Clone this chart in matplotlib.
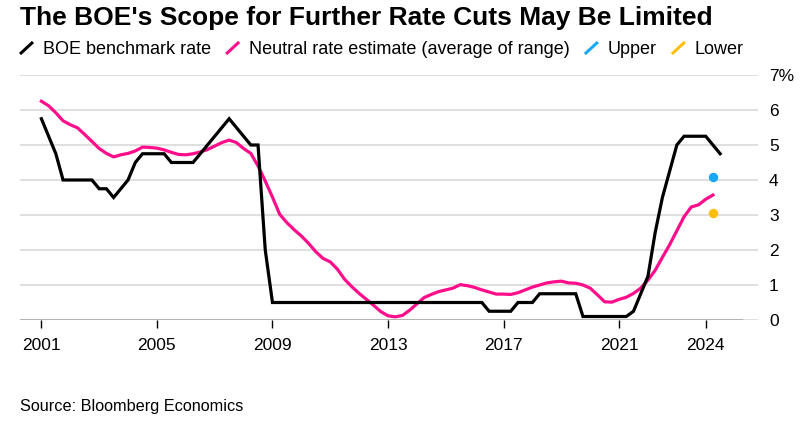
import numpy as np
import matplotlib
matplotlib.use("Agg")
import matplotlib.pyplot as plt
from matplotlib.lines import Line2D

plt.rcParams['font.family'] = ['Liberation Sans', 'DejaVu Sans']

# quarterly readings, first point = 2001 Q1
start_year = 2001.0
boe_rate = [
    5.75, 5.25, 4.75, 4.0, 4.0, 4.0, 4.0, 4.0,
    3.75, 3.75, 3.5, 3.75, 4.0, 4.5, 4.75, 4.75,
    4.75, 4.75, 4.5, 4.5, 4.5, 4.5, 4.75, 5.0,
    5.25, 5.5, 5.75, 5.5, 5.25, 5.0, 5.0, 2.0,
    0.5, 0.5, 0.5, 0.5, 0.5, 0.5, 0.5, 0.5,
    0.5, 0.5, 0.5, 0.5, 0.5, 0.5, 0.5, 0.5,
    0.5, 0.5, 0.5, 0.5, 0.5, 0.5, 0.5, 0.5,
    0.5, 0.5, 0.5, 0.5, 0.5, 0.5, 0.25, 0.25,
    0.25, 0.25, 0.5, 0.5, 0.5, 0.75, 0.75, 0.75,
    0.75, 0.75, 0.75, 0.1, 0.1, 0.1, 0.1, 0.1,
    0.1, 0.1, 0.25, 0.75, 1.25, 2.5, 3.5, 4.25,
    5.0, 5.25, 5.25, 5.25, 5.25, 5.0, 4.75,
]
neutral_rate = [
    6.25, 6.12, 5.92, 5.69, 5.58, 5.49, 5.30, 5.10,
    4.90, 4.76, 4.66, 4.72, 4.76, 4.83, 4.94, 4.93,
    4.91, 4.86, 4.79, 4.73, 4.72, 4.75, 4.80, 4.87,
    4.97, 5.07, 5.14, 5.07, 4.90, 4.76, 4.40, 3.97,
    3.51, 3.02, 2.78, 2.58, 2.40, 2.19, 1.95, 1.76,
    1.66, 1.45, 1.16, 0.95, 0.76, 0.59, 0.42, 0.24,
    0.12, 0.09, 0.13, 0.28, 0.46, 0.64, 0.73, 0.81,
    0.86, 0.91, 1.01, 0.98, 0.93, 0.86, 0.80, 0.74,
    0.74, 0.73, 0.78, 0.86, 0.94, 1.00, 1.06, 1.09,
    1.11, 1.06, 1.05, 1.00, 0.91, 0.72, 0.52, 0.51,
    0.59, 0.65, 0.76, 0.91, 1.14, 1.42, 1.79, 2.15,
    2.55, 2.95, 3.23, 3.29, 3.45, 3.57,
]
est_year = 2024.25
upper_est = 4.1
lower_est = 3.05

year_ticks = [2001, 2005, 2009, 2013, 2017, 2021, 2024]
rate_ticks = [0, 1, 2, 3, 4, 5, 6, 7]
rate_labels = ['0', '1', '2', '3', '4', '5', '6', '7%']

BLACK = '#000000'
PINK = '#ff0d8a'
BLUE = '#1aa7f5'
GOLD = '#fdbf0c'
GRID = '#dcdcdc'

W, H = 804, 433


def main():
    boe_x = start_year + 0.25 * np.arange(len(boe_rate))
    neu_x = start_year + 0.25 * np.arange(len(neutral_rate))

    fig = plt.figure(figsize=(W / 100, H / 100), dpi=100)
    ax = fig.add_axes([20 / W, 1 - 320 / H, 738 / W, 245 / H])

    for r in rate_ticks[1:]:
        ax.axhline(r, color=GRID, lw=1.3, zorder=1)
    ax.axhline(0, color=GRID, lw=1.3, zorder=1)
    ax.axhline(0, xmin=0, xmax=(742 - 20) / 738, color=BLACK, lw=1.0, zorder=2)

    ax.plot(neu_x, neutral_rate, color=PINK, lw=2.3, zorder=3, clip_on=False,
            solid_joinstyle='round')
    ax.plot(boe_x, boe_rate, color=BLACK, lw=2.3, zorder=4, clip_on=False,
            solid_joinstyle='miter')
    ax.scatter([est_year], [upper_est], s=46, color=BLUE, zorder=5, lw=0)
    ax.scatter([est_year], [lower_est], s=46, color=GOLD, zorder=5, lw=0)

    ax.set_xlim(2000.259, 2025.81)
    ax.set_ylim(0, 7)
    for s in ax.spines.values():
        s.set_visible(False)

    ax.set_xticks(year_ticks)
    ax.set_xticklabels([str(y) for y in year_ticks], fontsize=12.5)
    ax.tick_params(axis='x', length=6, width=1, color=BLACK, pad=7)

    ax.yaxis.tick_right()
    ax.set_yticks(rate_ticks)
    ax.set_yticklabels(rate_labels, fontsize=12.5)
    ax.tick_params(axis='y', length=0, pad=8)

    fig.text(20 / W, 1 - 25 / H, "The BOE's Scope for Further Rate Cuts May Be Limited",
             fontsize=19, fontweight='bold', va='baseline', ha='left')

    renderer = fig.canvas.get_renderer()
    entries = [('BOE benchmark rate', BLACK),
               ('Neutral rate estimate (average of range)', PINK),
               ('Upper', BLUE), ('Lower', GOLD)]
    x = 20
    for label, color in entries:
        fig.add_artist(Line2D([x / W, (x + 13) / W], [1 - 54 / H, 1 - 42 / H],
                              color=color, lw=2.2, transform=fig.transFigure,
                              solid_capstyle='butt'))
        t = fig.text((x + 23) / W, 1 - 54 / H, label, fontsize=13,
                     va='baseline', ha='left')
        bb = t.get_window_extent(renderer)
        x = bb.x1 + 15

    fig.text(20 / W, 1 - 411 / H, 'Source: Bloomberg Economics', fontsize=11.7,
             va='baseline', ha='left')

    fig.savefig('out.png', dpi=100)


main()
